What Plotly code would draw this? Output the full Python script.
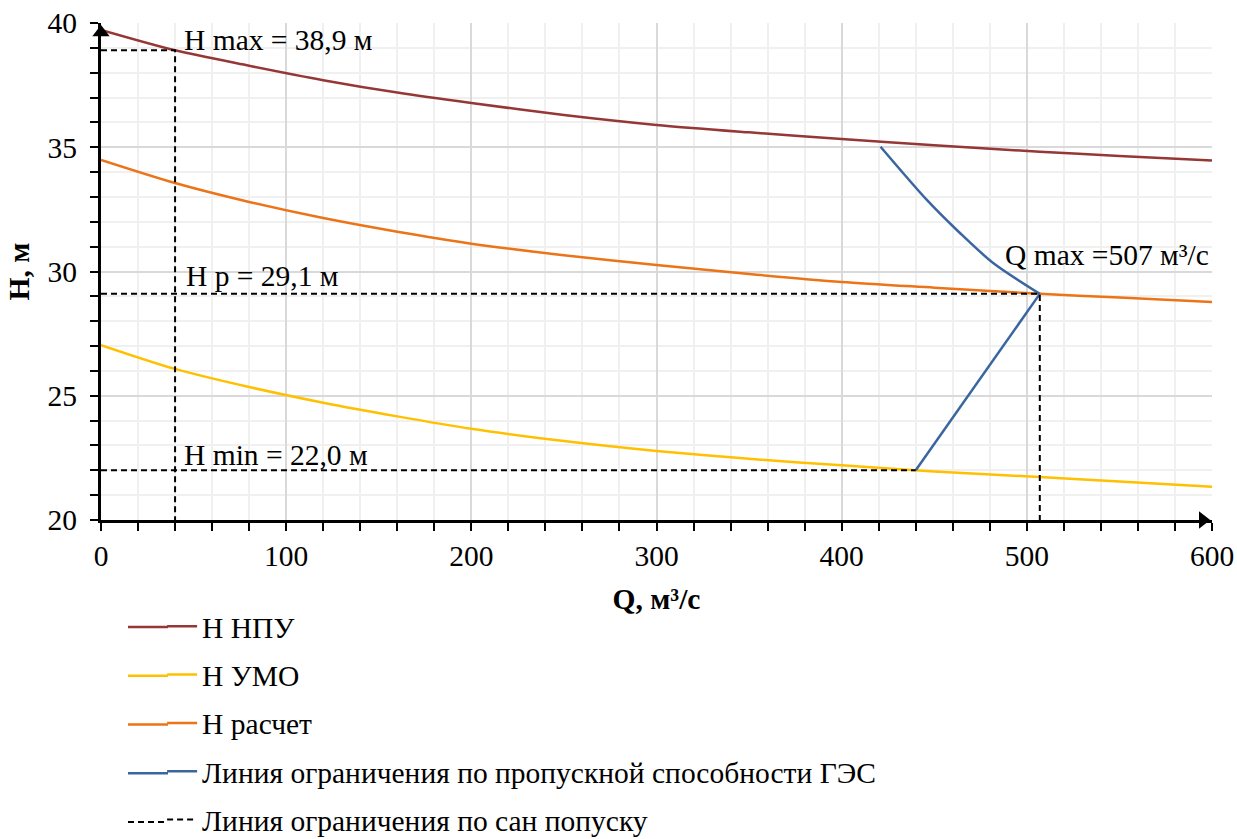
import plotly.graph_objects as go

FONT = "Liberation Serif, Times New Roman, serif"
FS = 29.5

# --- data -----------------------------------------------------------------
q_curve = [0, 40, 80, 120, 160, 200, 250, 300, 350, 400, 450, 507, 550, 600]
h_npu = [39.72, 38.9, 38.28, 37.7, 37.2, 36.78, 36.3, 35.9, 35.6, 35.33, 35.08, 34.82, 34.65, 34.47]
h_rasch = [34.49, 33.56, 32.8, 32.15, 31.6, 31.12, 30.65, 30.26, 29.9, 29.58, 29.35, 29.1, 28.95, 28.77]
h_umo = [27.04, 26.08, 25.35, 24.72, 24.17, 23.67, 23.18, 22.78, 22.46, 22.2, 21.95, 21.73, 21.55, 21.34]

q_ges_top = [421, 446, 464, 482, 507]
h_ges_top = [35.02, 32.88, 31.54, 30.33, 29.1]
q_ges_bot = [507, 440]
h_ges_bot = [29.1, 22.0]

q_san = [0, 40, 40, None, 0, 507, 507, None, 0, 440]
h_san = [38.9, 38.9, 20, None, 29.1, 29.1, 20, None, 22.0, 22.0]

ann_text = ["H max = 38,9 м", "H p = 29,1 м", "H min = 22,0 м", "Q max =507 м³/с"]
ann_q = [44.0, 45.0, 43.5, 487.0]
ann_h = [39.32, 29.8, 22.6, 30.68]

names = ["Н НПУ", "Н УМО", "Н расчет",
         "Линия ограничения по пропускной способности ГЭС",
         "Линия ограничения по сан попуску"]
colors = ["#953735", "#FFC000", "#EC7418", "#3A66A0", "#000000"]

fig = go.Figure()
series = [(q_curve, h_npu), (q_curve, h_umo), (q_curve, h_rasch)]
for i, (xs, ys) in enumerate(series):
    fig.add_trace(go.Scatter(
        x=xs, y=ys, mode="lines", name=names[i], legendgroup=str(i),
        line=dict(color=colors[i], width=2.5, shape="spline", smoothing=0.8),
        cliponaxis=False))
fig.add_trace(go.Scatter(
    x=q_ges_top, y=h_ges_top, mode="lines", name=names[3], legendgroup="3",
    line=dict(color=colors[3], width=2.5, shape="spline", smoothing=0.8), cliponaxis=False))
fig.add_trace(go.Scatter(
    x=q_ges_bot, y=h_ges_bot, mode="lines", name=names[3], legendgroup="3", showlegend=False,
    line=dict(color=colors[3], width=2.5), cliponaxis=False))
fig.add_trace(go.Scatter(
    x=q_san, y=h_san, mode="lines", name=names[4], legendgroup="4",
    line=dict(color="black", width=2, dash="6px,4px"), connectgaps=False, cliponaxis=False))

# axis arrowheads
fig.add_trace(go.Scatter(x=[0], y=[39.62], mode="markers", showlegend=False, hoverinfo="skip",
                         marker=dict(symbol="triangle-up", size=15, color="black"), cliponaxis=False))
fig.add_trace(go.Scatter(x=[595], y=[20], mode="markers", showlegend=False, hoverinfo="skip",
                         marker=dict(symbol="triangle-right", size=15, color="black"), cliponaxis=False))

for t, xq, yh in zip(ann_text, ann_q, ann_h):
    fig.add_annotation(x=xq, y=yh, text=t, showarrow=False, xanchor="left", yanchor="middle",
                       font=dict(family=FONT, size=FS, color="black"))

# longer legend line samples (extend Plotly's fixed 30px samples to the left)
PLOT_TOP, PLOT_BOT, PLOT_L, PLOT_W = 23, 520, 101, 1111
leg_rows_px = [627, 675.75, 724.5, 773.25, 822]
for c, ypx, k in zip(colors, leg_rows_px, range(5)):
    yp = (PLOT_BOT - ypx) / (PLOT_BOT - PLOT_TOP)
    fig.add_shape(type="line", xref="paper", yref="paper",
                  x0=(128 - PLOT_L) / PLOT_W, x1=(168 - PLOT_L) / PLOT_W, y0=yp, y1=yp,
                  line=dict(color=c, width=2.5 if k < 4 else 2, dash="solid" if k < 4 else "6px,4px"))

fig.update_layout(
    width=1237, height=839,
    margin=dict(l=101, r=25, t=23, b=319, autoexpand=False),
    paper_bgcolor="white", plot_bgcolor="white",
    font=dict(family=FONT, size=FS, color="black"),
    showlegend=True,
    legend=dict(orientation="v", x=0.055, xanchor="left", y=-0.162, yanchor="top",
                font=dict(family=FONT, size=FS, color="black"),
                tracegroupgap=7, bgcolor="rgba(0,0,0,0)"),
)
fig.update_xaxes(
    range=[0, 600], dtick=100, tick0=0,
    showline=True, linecolor="black", linewidth=2.5,
    ticks="outside", ticklen=8, tickwidth=2, tickcolor="black",
    showgrid=True, gridcolor="#d9d9d9", gridwidth=1.5, zeroline=False,
    minor=dict(dtick=20, showgrid=True, gridcolor="#f0f0f0", gridwidth=1.5,
               ticks="outside", ticklen=8, tickwidth=2, tickcolor="black"),
    title=dict(text="<b>Q, м³/с</b>", font=dict(family=FONT, size=FS), standoff=18),
    tickfont=dict(family=FONT, size=FS),
)
fig.update_yaxes(
    range=[20, 40], dtick=5, tick0=20,
    showline=True, linecolor="black", linewidth=2.5,
    ticks="outside", ticklen=8, tickwidth=2, tickcolor="black",
    ticksuffix="\u00a0",
    showgrid=True, gridcolor="#d9d9d9", gridwidth=1.5, zeroline=False,
    minor=dict(dtick=1, showgrid=True, gridcolor="#f0f0f0", gridwidth=1.5,
               ticks="outside", ticklen=8, tickwidth=2, tickcolor="black"),
    title=dict(text="<b>H, м</b>", font=dict(family=FONT, size=FS), standoff=10),
    tickfont=dict(family=FONT, size=FS),
)

fig.write_html("out.html")
